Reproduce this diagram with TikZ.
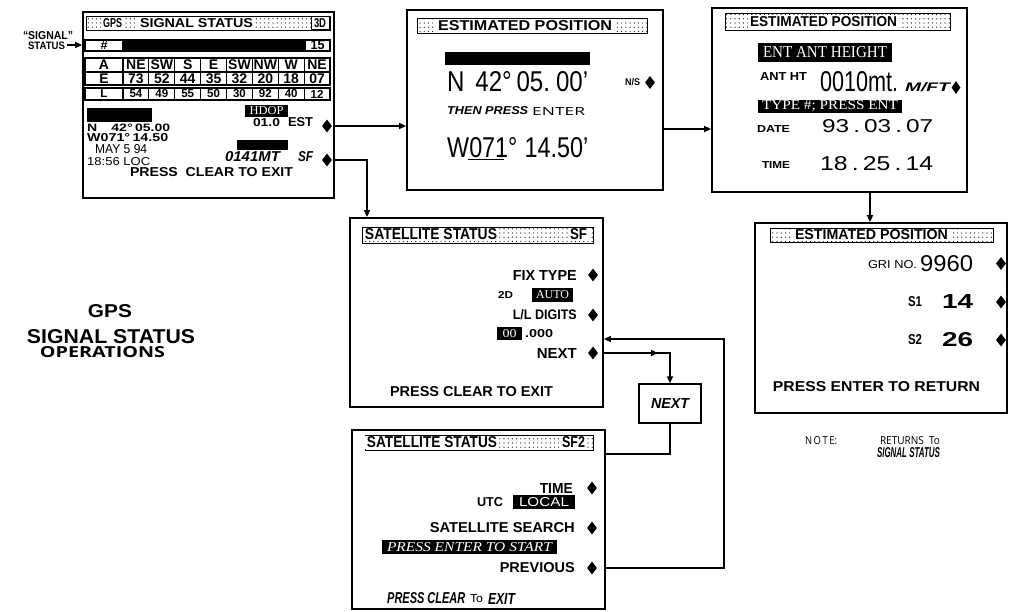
\documentclass[tikz,border=0pt]{standalone}
\usepackage{fontspec}
\usepackage{graphicx}
\setmainfont{Liberation Sans}
\newfontfamily\osans{Open Sans}
\newfontfamily\sser{Liberation Serif}
\newcommand\tx[3]{\resizebox{#1pt}{#2pt}{#3}}
\usetikzlibrary{arrows.meta,patterns.meta,fit,shapes.geometric}
\begin{document}
\begin{tikzpicture}[x=1pt,y=-1pt,
 screen/.style={draw, line width=1.8pt, inner sep=0pt},
 tbar/.style={draw, line width=0.9pt, pattern={Dots[radius=0.6pt,distance=4.2pt]}, pattern color=black},
 lbl/.style={inner sep=0pt},
 ttl/.style={fill=white, inner xsep=2pt, inner ysep=1pt},
 wt/.style={inner sep=0pt, text=white},
 dia/.style={diamond, fill=black, inner sep=0pt, minimum width=10pt, minimum height=13pt},
 conn/.style={line width=1.7pt},
 arr/.style={conn, -{Triangle[length=7pt,width=6pt]}},
 cell/.style={line width=1.1pt},
 tf/.style={inner sep=0pt, font=\bfseries\fontsize{14}{14}\selectfont},
 tfs/.style={inner sep=0pt, font=\bfseries\fontsize{11.5}{11.5}\selectfont},
 nbox/.style={draw, line width=1.5pt, inner sep=0pt, minimum width=62pt, minimum height=39pt}]

\useasboundingbox (0,0) rectangle (1012,611);

% ---------- screens ----------
\node[screen, fit={(83,12) (334,198)}] (b1) {};
\node[screen, fit={(407,10) (663,190)}] (b2) {};
\node[screen, fit={(712,8) (967,192)}] (b3) {};
\node[screen, fit={(350,218) (603,407)}] (b4) {};
\node[screen, fit={(755,223) (1007,413)}] (b5) {};
\node[screen, fit={(352,430) (605,609)}] (b6) {};

% ---------- box 1: GPS SIGNAL STATUS ----------
\draw[tbar] (86,16) rectangle (330,30);
\node[ttl] (b1g) at (112.5,23) {\tx{19}{9}{\bfseries GPS}};
\node[ttl] (b1s) at (196.5,23) {\tx{113}{9}{\bfseries SIGNAL STATUS}};
\node[draw, line width=0.8pt, fill=white, inner sep=0pt, minimum width=18pt, minimum height=13pt] (b13d) at (320,23) {\tx{12}{9}{\bfseries 3D}};

\draw[cell] (85,40) rectangle (330,51);
\fill (123,40) rectangle (305,51);
\draw[cell] (123,40) -- (123,51) (305,40) -- (305,51);
\node[lbl] (th) at (104,45.5) {\tx{7}{8}{\bfseries\#}};
\node[lbl] (t15) at (317.5,45.5) {\tx{14}{9}{\bfseries 15}};

\draw[cell] (85,58) rectangle (330,85);
\draw[cell] (85,72) -- (330,72);
\draw[cell] (85,88) rectangle (330,100);
\foreach \i in {0,...,7} {
  \draw[cell] ({123+25.875*\i},58) -- ++(0,27);
  \draw[cell] ({123+25.875*\i},88) -- ++(0,12);
}
\node[tf] (tA) at (104,65) {A};
\node[tf] (tE) at (104,78.5) {E};
\node[tfs] (tL) at (104,94) {L};
\foreach \v [count=\i] in {NE,SW,S,E,SW,NW,W,NE}
  \node[tf] (ta\i) at ({123+25.875*(\i-0.5)},65) {\v};
\foreach \v [count=\i] in {73,52,44,35,32,20,18,07}
  \node[tf] (te\i) at ({123+25.875*(\i-0.5)},78.5) {\v};
\foreach \v [count=\i] in {54,49,55,50,30,92,40,12}
  \node[tfs] (tl\i) at ({123+25.875*(\i-0.5)},94) {\v};

\fill (87,108) rectangle (152,122);
\node[lbl, anchor=west] (b1n) at (87,127.5) {\tx{83}{7.5}{\bfseries N\hspace{1em}42°\,05.00}};
\node[lbl, anchor=west] (b1w) at (87,138) {\tx{81}{8}{\bfseries W071°\,14.50}};
\node[lbl, anchor=west] (b1d) at (95,149.5) {\tx{52}{9}{MAY 5 94}};
\node[lbl, anchor=west] (b1t) at (87,161.5) {\tx{63}{8}{18:56 LOC}};
\node[lbl] (b1x) at (211.5,172.5) {\tx{163}{9}{\bfseries PRESS\ \ CLEAR TO EXIT}};

\fill (245,105) rectangle (288,117);
\node[wt] (b1h) at (266.5,111) {\tx{34}{8}{\sser HDOP}};
\node[lbl] (b1hv) at (266.5,122.5) {\tx{27}{8}{\bfseries 01.0}};
\node[lbl] (b1est) at (300.5,122.5) {\tx{25}{9}{\bfseries EST}};
\node[dia] (estd) at (327,126) {};

\fill (237,140) rectangle (288,150);
\node[lbl] (b1alt) at (252.5,157) {\tx{55}{10}{\bfseries\itshape 0141MT}};
\node[lbl] (b1sf) at (305.5,157) {\tx{15}{10}{\bfseries\itshape SF}};
\node[dia] (sfd) at (327,160) {};

% ---------- box 2: ESTIMATED POSITION ----------
\draw[tbar] (417,18) rectangle (647,33);
\node[ttl] (b2t) at (525,25.5) {\tx{174}{10}{\bfseries ESTIMATED POSITION}};
\fill (445,52) rectangle (590,65);
\node[lbl, anchor=west] (b2n) at (447,82) {\tx{141}{20}{N\hspace{0.45em}42°\hspace{0.2em}05.\hspace{0.25em}00'}};
\node[lbl] (b2ns) at (632.5,82.5) {\tx{15}{7}{\bfseries N/S}};
\node[dia] (nsd) at (650,82.5) {};
\node[lbl, anchor=west] (b2tp) at (447,111) {\tx{81}{8}{\bfseries\itshape THEN PRESS}};
\node[lbl, anchor=west] (b2en) at (532,111) {\tx{53}{8}{\osans ENTER}};
\node[lbl, anchor=west] (b2w) at (447,148) {\tx{141}{20}{W071°\hspace{0.3em}14.50'}};
\draw[line width=1pt] (468,159) -- (504,159);

% ---------- box 3: ESTIMATED POSITION (antenna) ----------
\draw[tbar] (725,13) rectangle (950,30);
\node[ttl] (b3t) at (823.5,21.5) {\tx{147}{10}{\bfseries ESTIMATED POSITION}};
\fill (758,43) rectangle (892,62);
\node[wt] (b3e) at (825,52.5) {\tx{124}{11}{\sser ENT ANT HEIGHT}};
\node[lbl] (b3a) at (783.5,76) {\tx{47}{8}{\bfseries ANT HT}};
\node[lbl, anchor=west] (b3v) at (820,82) {\tx{78}{20}{0010mt.}};
\node[lbl] (b3m) at (927.5,87.5) {\tx{45}{9}{\bfseries\itshape M/FT}};
\node[dia, minimum width=9pt, minimum height=13pt] (mftd) at (956,87.5) {};
\fill (758,100) rectangle (902,113);
\node[wt] (b3ty) at (830,106.5) {\tx{136}{9}{\sser TYPE \#; PRESS ENT}};
\node[lbl] (b3d) at (773.5,128.5) {\tx{33}{7}{\bfseries DATE}};
\node[lbl, anchor=west] (b3dv) at (822,126.5) {\tx{111}{13}{93\,.\,03\,.\,07}};
\node[lbl] (b3ti) at (776,164.5) {\tx{28}{7}{\bfseries TIME}};
\node[lbl, anchor=west] (b3tv) at (820,164) {\tx{113}{14}{18\,.\,25\,.\,14}};

% ---------- box 5: ESTIMATED POSITION (GRI) ----------
\draw[tbar] (770,228) rectangle (993,242);
\node[ttl] (b5t) at (871.5,235) {\tx{153}{10}{\bfseries ESTIMATED POSITION}};
\node[lbl] (b5g) at (892.5,264.5) {\tx{49}{8}{GRI NO.}};
\node[lbl] (b5gv) at (946.5,263.5) {\tx{53}{16}{9960}};
\node[dia] (grid) at (1001,263.5) {};
\node[lbl] (b5s1) at (915,302) {\tx{14}{10}{\bfseries S1}};
\node[lbl] (b5s1v) at (957.5,301) {\tx{31}{14}{\bfseries 14}};
\node[dia] (s1d) at (1001,302) {};
\node[lbl] (b5s2) at (915,340) {\tx{14}{10}{\bfseries S2}};
\node[lbl] (b5s2v) at (957.5,340) {\tx{31}{14}{\bfseries 26}};
\node[dia] (s2d) at (1001,340) {};
\node[lbl] (b5x) at (876.5,387) {\tx{207}{10}{\bfseries PRESS ENTER TO RETURN}};

\node[lbl] (note) at (821,441) {\tx{32}{8}{\osans N\,O\,T\,E:}};
\node[lbl] (ret) at (910,441) {\tx{60}{8}{\osans RETURNS\ \ To}};
\node[lbl] (retss) at (908.5,453) {\tx{63}{10}{\bfseries\itshape SIGNAL STATUS}};

% ---------- box 4: SATELLITE STATUS SF ----------
\draw[tbar] (362,227) rectangle (593,243);
\node[ttl] (b4t) at (431,234.5) {\tx{132}{11}{\bfseries SATELLITE STATUS}};
\node[ttl] (b4sf) at (578.5,234.5) {\tx{17}{11}{\bfseries SF}};
\node[lbl, anchor=east] (b4fix) at (577,275) {\tx{64}{10}{\bfseries FIX TYPE}};
\node[dia] (fixd) at (593,275) {};
\node[lbl] (b42d) at (505.5,295) {\tx{15}{7}{\bfseries 2D}};
\fill (532,288) rectangle (573,302);
\node[wt] (b4auto) at (552.5,295) {\tx{33}{8}{\sser AUTO}};
\node[lbl, anchor=east] (b4ll) at (577,315) {\tx{64}{10}{\bfseries L/L DIGITS}};
\node[dia] (lld) at (593,315) {};
\fill (497,327) rectangle (522,340);
\node[wt] (b400) at (509.5,333.5) {\tx{14}{8}{\sser 00}};
\node[lbl] (b4dec) at (539,334) {\tx{28}{8}{\bfseries .000}};
\node[lbl, anchor=east] (b4next) at (577,353) {\tx{40}{10}{\bfseries NEXT}};
\node[dia] (nextd) at (593,353) {};
\node[lbl] (b4x) at (471.5,392) {\tx{163}{10}{\bfseries PRESS CLEAR TO EXIT}};

% ---------- box 6: SATELLITE STATUS SF2 ----------
\draw[tbar] (365,435) rectangle (593,450);
\node[ttl] (b6t) at (432,442.5) {\tx{130}{11}{\bfseries SATELLITE STATUS}};
\node[ttl] (b6sf) at (573.5,442.5) {\tx{23}{11}{\bfseries SF2}};
\node[lbl, anchor=east] (b6time) at (573,488) {\tx{33}{10}{\bfseries TIME}};
\node[dia] (timed) at (592,488) {};
\node[lbl] (b6utc) at (490,502.5) {\tx{26}{9}{\bfseries UTC}};
\fill (513,495) rectangle (575,509);
\node[wt] (b6loc) at (544,502) {\tx{50}{9}{LOCAL}};
\node[lbl, anchor=east] (b6ss) at (575,528) {\tx{145}{10}{\bfseries SATELLITE SEARCH}};
\node[dia] (ssd) at (592,528) {};
\fill (382,540) rectangle (557,554);
\node[wt] (b6pe) at (469.5,547) {\tx{165}{9}{\sser\itshape PRESS ENTER TO START}};
\node[lbl, anchor=east] (b6prev) at (575,568) {\tx{75}{10}{\bfseries PREVIOUS}};
\node[dia] (prevd) at (592,568) {};
\node[lbl, anchor=west] (b6pc) at (387,598.5) {\tx{78}{11}{\bfseries\itshape PRESS CLEAR}};
\node[lbl] (b6to) at (476.5,599) {\tx{13}{8}{To}};
\node[lbl] (b6ex) at (501.5,598.5) {\tx{27}{11}{\bfseries\itshape EXIT}};

% ---------- NEXT box ----------
\node[nbox] (nx) at (670,403.5) {\tx{38}{10}{\bfseries\itshape NEXT}};

% ---------- side labels ----------
\node[lbl] (sig1) at (48,36) {\tx{50}{8}{\bfseries “SIGNAL”}};
\node[lbl] (sig2) at (46.5,45.5) {\tx{37}{7.5}{\bfseries STATUS}};
\coordinate (sigl) at (67,45);
\node[lbl] (ops1) at (110,311.5) {\tx{44}{13}{\bfseries GPS}};
\node[lbl] (ops2) at (111,337) {\tx{168}{14}{\bfseries SIGNAL STATUS}};
\node[lbl] (ops3) at (102.5,352.5) {\tx{125}{11}{\osans\bfseries OPERATIONS}};

% ---------- connectors ----------
\coordinate (c23) at (0,129);
\coordinate (c35) at (870,0);
\coordinate (c14) at (367,0);
\coordinate (c6) at (0,454);
\coordinate (c7) at (724,339);

\draw[arr] (sigl) -- (b1.west |- sigl);
\draw[arr] (b1.east |- estd) -- (b2.west |- estd);
\draw[arr] (b2.east |- c23) -- (b3.west |- c23);
\draw[arr] (b3.south -| c35) -- (b5.north -| c35);
\draw[arr] (b1.east |- sfd) -| (c14 |- b4.north);
\draw[arr] (b4.east |- nextd) -| (nx.north);
\draw[arr] (b4.east |- nextd) -- ++(54,0);
\draw[conn] (nx.south) |- (b6.east |- c6);
\draw[arr] (b6.east |- prevd) -| (c7) -- (b4.east |- c7);
\end{tikzpicture}
\end{document}
